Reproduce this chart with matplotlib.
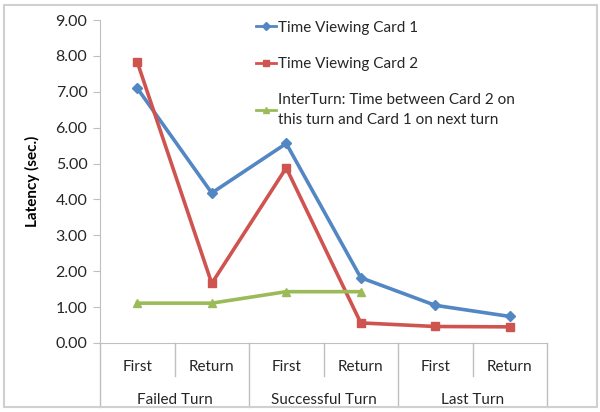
import numpy as np
import matplotlib
matplotlib.use("Agg")
import matplotlib.pyplot as plt
from matplotlib.patches import Rectangle
from matplotlib.transforms import blended_transform_factory

plt.rcParams['font.family'] = ['Lato', 'DejaVu Sans']

# data
sub_labels = ["First", "Return", "First", "Return", "First", "Return"]
group_labels = ["Failed Turn", "Successful Turn", "Last Turn"]
card1 = [7.10, 4.18, 5.56, 1.82, 1.05, 0.74]
card2 = [7.83, 1.66, 4.88, 0.56, 0.46, 0.45]
interturn = [1.11, 1.11, 1.43, 1.43]

series_names = [
    "Time Viewing Card 1",
    "Time Viewing Card 2",
    "InterTurn: Time between Card 2 on\nthis turn and Card 1 on next turn",
]
y_ticks = np.arange(0, 9.01, 1.0)

blue = "#5287C4"
red = "#CF5450"
green = "#9BBB59"
text_col = "#262626"
line_col = "#BFBFBF"

fig = plt.figure(figsize=(6.0, 4.12), dpi=100)
ax = fig.add_axes([100 / 600, 1 - 343 / 412, 447 / 600, 323 / 412])

x = np.arange(len(sub_labels))
ax.plot(x, card1, color=blue, lw=2.6, marker="D", ms=5, label=series_names[0])
ax.plot(x, card2, color=red, lw=2.6, marker="s", ms=6, label=series_names[1])
ax.plot(x[:len(interturn)], interturn, color=green, lw=2.6, marker="^", ms=6,
        label=series_names[2])

ax.set_xlim(-0.5, len(sub_labels) - 0.5)
ax.set_ylim(0, 9)
ax.set_yticks(y_ticks)
ax.set_yticklabels(["%.2f" % v for v in y_ticks], fontsize=11.5, color=text_col)
ax.tick_params(axis="y", length=5, color=line_col, pad=4)
ax.set_xticks([])

for s in ["top", "right"]:
    ax.spines[s].set_visible(False)
ax.spines["left"].set_color(line_col)
ax.spines["bottom"].set_color(line_col)

ax.set_ylabel("Latency (sec.)", fontsize=11, fontweight="bold", color="black",
              labelpad=11)

# category axis: sub labels, group labels, separators
tr = blended_transform_factory(ax.transData, ax.transAxes)
px = 1.0 / 323
for i, lab in enumerate(sub_labels):
    ax.text(i, -24 * px, lab, transform=tr, ha="center", va="center",
            fontsize=11, color=text_col)
for g, lab in enumerate(group_labels):
    ax.text(2 * g + 0.5, -57 * px, lab, transform=tr, ha="center",
            va="center", fontsize=11, color=text_col)
for b in np.arange(-0.5, len(sub_labels), 1.0):
    bottom = -64 * px if (b + 0.5) % 2 == 0 else -33 * px
    ax.plot([b, b], [0, bottom], transform=tr, color=line_col, lw=1,
            clip_on=False)

leg = ax.legend(loc="upper left", bbox_to_anchor=(0.318, 1.04), frameon=False,
                fontsize=11, handlelength=1.3, handletextpad=0.15,
                labelspacing=1.45, labelcolor=text_col)
for h in leg.legend_handles:
    h.set_linewidth(2)
    h.set_markersize(4)
for t in leg.get_texts():
    t.set_linespacing(1.55)

fig.patches.append(Rectangle((4 / 600, 5 / 412), 593 / 600, 402 / 412,
                             transform=fig.transFigure, fill=False,
                             edgecolor="#D0D0D0", lw=1.5))

fig.savefig("out.png", dpi=100)
